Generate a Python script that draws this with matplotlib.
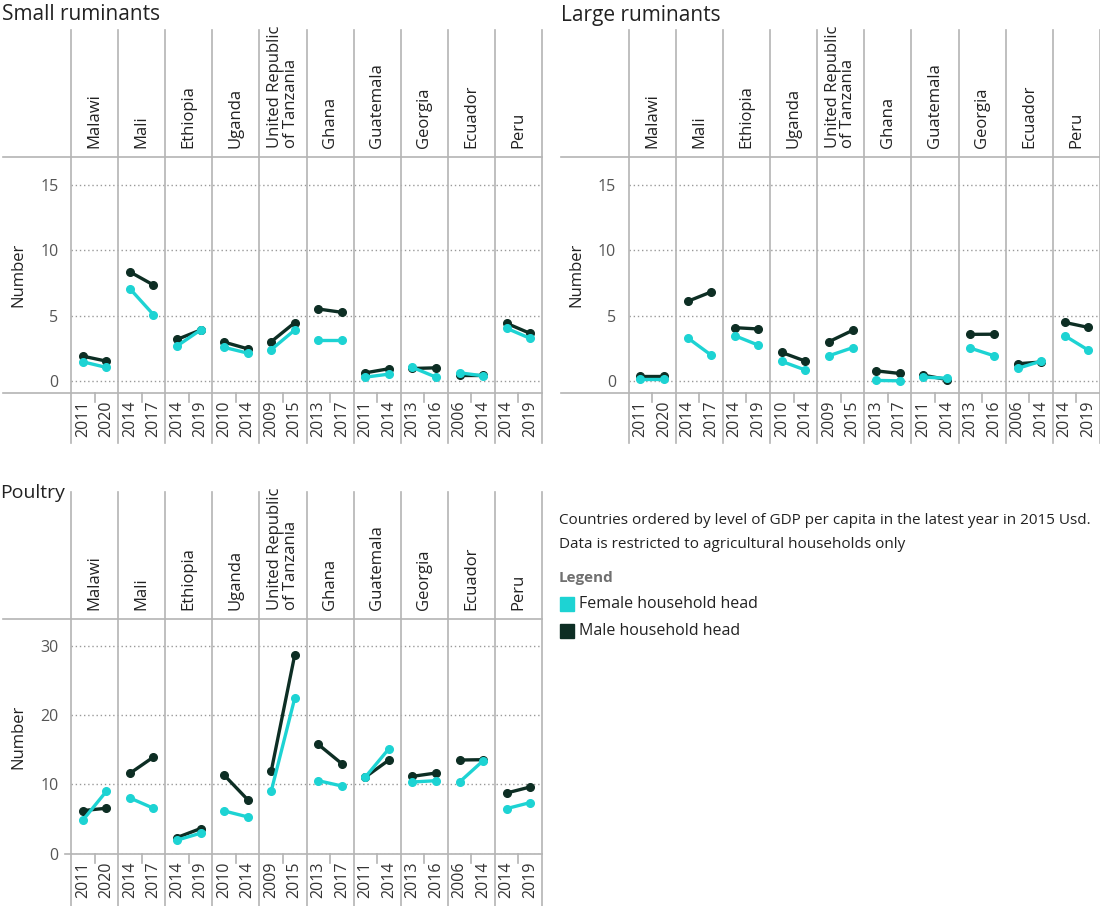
import matplotlib
matplotlib.use("Agg")
import matplotlib.pyplot as plt
from matplotlib.lines import Line2D
from matplotlib.patches import Rectangle
from matplotlib.transforms import blended_transform_factory

plt.rcParams['font.family'] = ['Open Sans', 'DejaVu Sans']

countries = ["Malawi", "Mali", "Ethiopia", "Uganda", "United Republic\nof Tanzania",
             "Ghana", "Guatemala", "Georgia", "Ecuador", "Peru"]
years = [(2011, 2020), (2014, 2017), (2014, 2019), (2010, 2014), (2009, 2015),
         (2013, 2017), (2011, 2014), (2013, 2016), (2006, 2014), (2014, 2019)]

small_female = [(1.5, 1.07), (7.07, 5.09), (2.7, 3.92), (2.6, 2.16), (2.42, 3.92),
                (3.16, 3.16), (0.33, 0.56), (1.07, 0.33), (0.66, 0.43), (4.05, 3.28)]
small_male = [(1.93, 1.55), (8.35, 7.35), (3.2, 3.92), (3.0, 2.49), (3.03, 4.48),
              (5.52, 5.27), (0.66, 0.97), (0.99, 1.04), (0.46, 0.46), (4.43, 3.66)]

large_female = [(0.2, 0.2), (3.33, 2.01), (3.49, 2.77), (1.53, 0.87), (1.96, 2.57),
                (0.08, 0.05), (0.33, 0.25), (2.54, 1.96), (0.99, 1.55), (3.49, 2.39)]
large_male = [(0.4, 0.4), (6.1, 6.82), (4.1, 4.0), (2.21, 1.55), (3.03, 3.89),
              (0.81, 0.61), (0.48, 0.15), (3.59, 3.6), (1.35, 1.48), (4.5, 4.12)]

poultry_female = [(4.81, 9.0), (8.04, 6.55), (1.93, 2.94), (6.16, 5.3), (9.0, 22.48),
                  (10.54, 9.77), (11.07, 15.17), (10.35, 10.54), (10.35, 13.43), (6.5, 7.37)]
poultry_male = [(6.21, 6.55), (11.6, 13.96), (2.31, 3.61), (11.36, 7.8), (11.89, 28.74),
                (15.79, 13.0), (11.07, 13.53), (11.17, 11.65), (13.53, 13.58), (8.76, 9.63)]

FEMALE = "#1dd3d3"
MALE = "#0d2e24"
GRID = "#b4b4b4"
W, H = 1100, 906

fig = plt.figure(figsize=(W / 100, H / 100), dpi=100)


def fx(x):
    return x / W


def fy(y):
    return 1 - y / H


def hline(x0, x1, y):
    fig.add_artist(Line2D([fx(x0), fx(x1)], [fy(y), fy(y)], color=GRID, lw=1.2))


def panel(title, title_x, title_y, title_size, x0, x1, top, plot_top, plot_bot, line_bot,
          ylim, yticks, female, male, left_line_x, bottom_line_x):
    ax = fig.add_axes([fx(x0), fy(plot_bot), (x1 - x0) / W, (plot_bot - plot_top) / H])
    ax.set_xlim(0, 10)
    ax.set_ylim(*ylim)
    for s in ax.spines.values():
        s.set_visible(False)
    ax.set_xticks([])
    ax.set_yticks(yticks)
    ax.tick_params(axis='y', length=0, pad=9, labelsize=11.5, labelcolor="#555555")
    ax.yaxis.grid(True, linestyle=(0, (1, 2)), color="#999999", lw=1)
    ax.set_ylabel("Number", fontsize=12, color="#222222", labelpad=10)

    tr = blended_transform_factory(ax.transData, fig.transFigure)
    for i in range(11):
        ax.add_artist(Line2D([i, i], [fy(top), fy(line_bot)], transform=tr,
                             color=GRID, lw=1.2, clip_on=False))
    hline(left_line_x, x1, plot_top)
    hline(bottom_line_x, x1, plot_bot)

    for i, name in enumerate(countries):
        ax.text(i + 0.5, fy(plot_top - 9), name, transform=tr, rotation=90,
                ha='center', va='bottom', multialignment='left',
                fontsize=12, color="#222222", linespacing=0.95)
        for k in range(2):
            ax.text(i + 0.25 + 0.5 * k, fy(plot_bot + 8), str(years[i][k]), transform=tr,
                    rotation=90, ha='center', va='top', fontsize=11.5, color="#333333")
        ax.add_artist(Line2D([i + 0.5, i + 0.5], [fy(plot_bot), fy(plot_bot + 9)],
                             transform=tr, color=GRID, lw=1.2, clip_on=False))

        xs = [i + 0.25, i + 0.75]
        ax.plot(xs, male[i], color=MALE, lw=2.4, marker='o', ms=5.5, clip_on=False, zorder=3)
        ax.plot(xs, female[i], color=FEMALE, lw=2.4, marker='o', ms=5.5, clip_on=False, zorder=4)

    fig.text(fx(title_x), fy(title_y), title, fontsize=title_size, color="#222222",
             ha='left', va='center')
    return ax


panel("Small ruminants", 2, 15, 15, 71, 542, 30, 157, 392.5, 443,
      (-0.84, 17.1), [0, 5, 10, 15], small_female, small_male, 3, 3)
panel("Large ruminants", 561, 15, 15, 628.6, 1100, 30, 157, 392.5, 443,
      (-0.84, 17.1), [0, 5, 10, 15], large_female, large_male, 561, 561)
panel("Poultry", 0, 493, 14, 71, 542, 492, 619.3, 853.5, 906,
      (0, 33.9), [0, 10, 20, 30], poultry_female, poultry_male, 3, 65)

# notes and legend
fig.text(fx(559), fy(521), "Countries ordered by level of GDP per capita in the latest year in 2015 Usd.",
         fontsize=11, color="#222222", va='center')
fig.text(fx(559), fy(544), "Data is restricted to agricultural households only",
         fontsize=11, color="#222222", va='center')
fig.text(fx(559), fy(578), "Legend", fontsize=11, color="#707070", weight='bold', va='center')
for yy, lab, col in [(604, "Female household head", FEMALE), (631, "Male household head", MALE)]:
    fig.add_artist(Rectangle((fx(559.5), fy(yy + 7)), 14 / W, 14 / H, color=col,
                             transform=fig.transFigure))
    fig.text(fx(579), fy(yy), lab, fontsize=11.5, color="#222222", va='center')

fig.savefig("out.png", dpi=100)
